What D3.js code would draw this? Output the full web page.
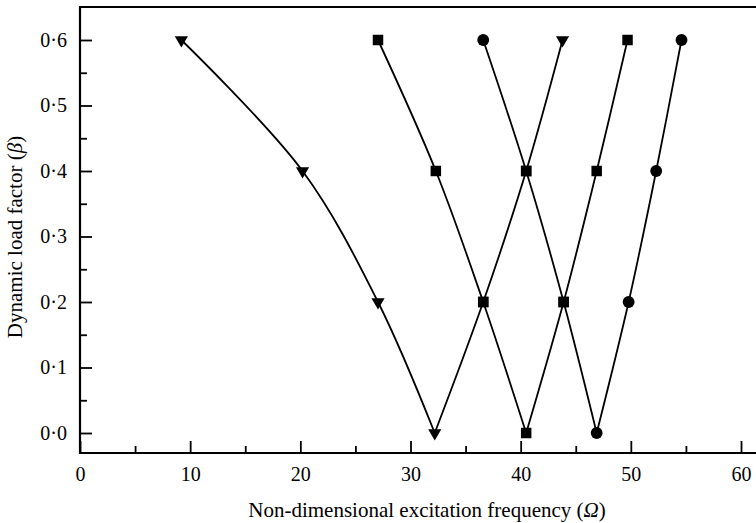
<!DOCTYPE html>
<html>
<head>
<meta charset="utf-8">
<script src="https://cdn.jsdelivr.net/npm/d3@7"></script>
<style>
  body { margin: 0; background: #fff; }
  svg { display: block; }
  text { font-family: "Liberation Serif", "Times New Roman", serif; fill: #000; }
  .curve { fill: none; stroke: #000; stroke-width: 1.8; }
  .tick line { stroke: #000; stroke-width: 1.8; }
</style>
</head>
<body>
<svg id="chart" width="756" height="523"></svg>
<script>
// load factor levels, shared by every branch
var betaDown = [0.6, 0.4, 0.2, 0.0];
var betaUp = [0.0, 0.2, 0.4, 0.6];

// triangle series
var triDown = [9.2, 20.2, 27.05, 32.2];
var triUp = [32.2, 36.6, 40.5, 43.8];
// square series
var sqDown = [27.05, 32.3, 36.6, 40.5];
var sqUp = [40.5, 43.9, 46.9, 49.7];
// circle series
var cirDown = [36.6, 40.5, 43.9, 46.9];
var cirUp = [46.9, 49.8, 52.3, 54.6];

// marker used at each point of a branch (crossings show squares)
var triDownMarks = ["tri", "tri", "tri", "tri"];
var triUpMarks = ["tri", "sq", "sq", "tri"];
var sqDownMarks = ["sq", "sq", "sq", "sq"];
var sqUpMarks = ["sq", "sq", "sq", "sq"];
var cirDownMarks = ["cir", "sq", "sq", "cir"];
var cirUpMarks = ["cir", "cir", "cir", "cir"];

var xMajor = [0, 10, 20, 30, 40, 50, 60];
var xMinor = [5, 15, 25, 35, 45, 55];
var yMajor = [0, 0.1, 0.2, 0.3, 0.4, 0.5, 0.6];
var yMinor = [0.05, 0.15, 0.25, 0.35, 0.45, 0.55];

var svg = d3.select("#chart");

var x = d3.scaleLinear().domain([0, 60]).range([80, 741]);
var y = d3.scaleLinear().domain([0, 0.6]).range([433, 40]);

var frameL = 80, frameT = 7, frameB = 453, frameR = 780;

function branch(xs, ys, marks) {
  return xs.map(function(v, i) { return {x: v, y: ys[i], m: marks[i]}; });
}

var series = [
  {down: branch(triDown, betaDown, triDownMarks), up: branch(triUp, betaUp, triUpMarks)},
  {down: branch(cirDown, betaDown, cirDownMarks), up: branch(cirUp, betaUp, cirUpMarks)},
  {down: branch(sqDown, betaDown, sqDownMarks), up: branch(sqUp, betaUp, sqUpMarks)}
];

// axes (ticks pointing inward)
var fmt = function(d) { return d3.format(".1f")(d).replace(".", "\u00b7"); };

svg.append("g")
    .attr("transform", "translate(0," + frameB + ")")
    .call(d3.axisBottom(x).tickValues(xMajor).tickSize(-12).tickPadding(14).tickFormat(d3.format("d")))
    .call(function(g) { g.select(".domain").remove(); })
    .selectAll("text").style("font-size", "20px").style("font-family", "Liberation Serif");

svg.append("g")
    .attr("transform", "translate(0," + frameB + ")")
    .call(d3.axisBottom(x).tickValues(xMinor).tickSize(-7).tickFormat(""))
    .call(function(g) { g.select(".domain").remove(); });

svg.append("g")
    .attr("transform", "translate(" + frameL + ",0)")
    .call(d3.axisLeft(y).tickValues(yMajor).tickSize(-12).tickPadding(13).tickFormat(fmt))
    .call(function(g) { g.select(".domain").remove(); })
    .selectAll("text").style("font-size", "20px").style("font-family", "Liberation Serif");

svg.append("g")
    .attr("transform", "translate(" + frameL + ",0)")
    .call(d3.axisLeft(y).tickValues(yMinor).tickSize(-7).tickFormat(""))
    .call(function(g) { g.select(".domain").remove(); });

// frame
svg.append("path")
    .attr("d", "M" + frameR + "," + frameT + "H" + frameL + "V" + frameB + "H" + frameR)
    .attr("fill", "none")
    .attr("stroke", "#000")
    .attr("stroke-width", 2.2);

// curves
var line = d3.line()
    .x(function(d) { return x(d.x); })
    .y(function(d) { return y(d.y); })
    .curve(d3.curveCatmullRom.alpha(0.5));

series.forEach(function(s) {
  [s.down, s.up].forEach(function(b) {
    svg.append("path").attr("class", "curve").attr("d", line(b));
  });
});

// markers
var sym = {
  tri: d3.symbol().type(d3.symbolTriangle).size(75),
  sq: d3.symbol().type(d3.symbolSquare).size(110),
  cir: d3.symbol().type(d3.symbolCircle).size(110)
};

series.forEach(function(s) {
  var pts = s.down.concat(s.up.slice(1));
  svg.append("g").selectAll("path")
      .data(pts)
    .enter().append("path")
      .attr("d", function(d) { return sym[d.m](); })
      .attr("fill", "#000")
      .attr("transform", function(d) {
        return "translate(" + x(d.x) + "," + y(d.y) + ")" + (d.m == "tri" ? " rotate(180)" : "");
      });
});

// axis titles
svg.append("text")
    .attr("x", 427)
    .attr("y", 517)
    .attr("text-anchor", "middle")
    .style("font-size", "21px")
    .html("Non-dimensional excitation frequency (<tspan font-style='italic'>\u03a9</tspan>)");

svg.append("text")
    .attr("transform", "translate(22,237) rotate(-90)")
    .attr("text-anchor", "middle")
    .style("font-size", "21px")
    .html("Dynamic load factor (<tspan font-style='italic'>\u03b2</tspan>)");
</script>
</body>
</html>
